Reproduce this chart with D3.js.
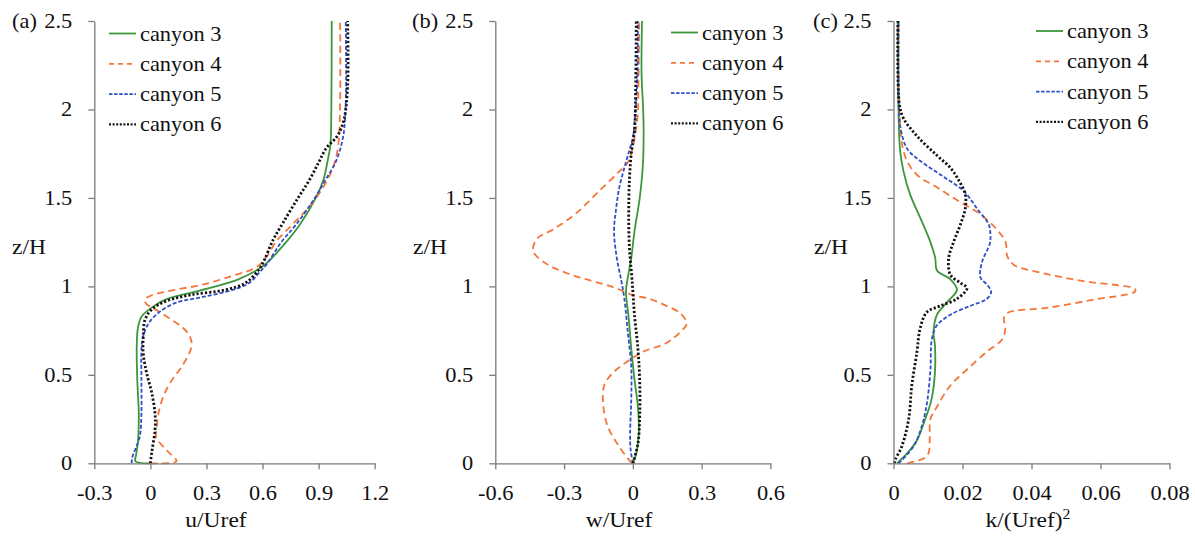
<!DOCTYPE html>
<html>
<head>
<meta charset="utf-8">
<script src="https://cdn.jsdelivr.net/npm/d3@7"></script>
<style>
  body { margin: 0; background: #fff; }
  text { font-family: "Liberation Serif", "Times New Roman", serif; fill: #111; }
</style>
</head>
<body>
<svg id="chart" width="1195" height="540"></svg>
<script>
// ---- data -------------------------------------------------------------
const seriesNames = ["canyon 3", "canyon 4", "canyon 5", "canyon 6"];
const zTicks = [0, 0.5, 1, 1.5, 2, 2.5];
const uTicks = [-0.3, 0, 0.3, 0.6, 0.9, 1.2];
const wTicks = [-0.6, -0.3, 0, 0.3, 0.6];
const kTicks = [0, 0.02, 0.04, 0.06, 0.08];

// Streamwise velocity u/Uref against height z/H: [value, z/H]
const u3 = [[-0.005,0],[-0.08,0.012],[-0.076,0.05],[-0.066,0.13],[-0.062,0.28],[-0.07,0.47],[-0.073,0.66],[-0.066,0.77],[-0.047,0.83],[0.007,0.88],[0.08,0.925],[0.2,0.96],[0.35,1.0],[0.47,1.04],[0.56,1.085],[0.62,1.13],[0.71,1.23],[0.8,1.35],[0.885,1.5],[0.925,1.6],[0.95,1.72],[0.963,1.8],[0.968,2.0],[0.97,2.5]];
const u4 = [[0.0,0],[0.14,0.012],[0.09,0.07],[0.03,0.15],[0.034,0.2],[0.043,0.28],[0.07,0.38],[0.115,0.47],[0.17,0.55],[0.22,0.66],[0.21,0.72],[0.17,0.77],[0.115,0.81],[0.043,0.86],[-0.02,0.9],[-0.03,0.925],[0.007,0.95],[0.13,0.98],[0.28,1.01],[0.44,1.06],[0.57,1.11],[0.63,1.18],[0.67,1.25],[0.76,1.35],[0.85,1.45],[0.93,1.57],[0.98,1.68],[1.005,1.8],[1.015,2.03],[1.015,2.5]];
const u5 = [[-0.1,0],[-0.098,0.03],[-0.057,0.15],[-0.048,0.28],[-0.048,0.47],[-0.047,0.66],[-0.038,0.72],[-0.01,0.79],[0.043,0.85],[0.13,0.905],[0.28,0.94],[0.44,0.98],[0.53,1.02],[0.58,1.075],[0.625,1.13],[0.7,1.25],[0.78,1.35],[0.88,1.5],[0.935,1.6],[0.99,1.7],[1.03,1.84],[1.045,2.03],[1.045,2.5]];
const u6 = [[0.0,0],[0.007,0.06],[0.025,0.19],[0.025,0.28],[0.007,0.4],[-0.02,0.51],[-0.038,0.62],[-0.038,0.72],[-0.029,0.81],[0.007,0.87],[0.08,0.915],[0.22,0.953],[0.4,0.98],[0.51,1.02],[0.58,1.094],[0.61,1.15],[0.655,1.26],[0.71,1.36],[0.79,1.5],[0.85,1.6],[0.9,1.7],[0.94,1.78],[1.0,1.85],[1.035,1.94],[1.055,2.13],[1.055,2.5]];

// Vertical velocity w/Uref against z/H
const w3 = [[0,0],[0.015,0.057],[0.026,0.17],[0.022,0.32],[0.007,0.475],[-0.007,0.65],[-0.018,0.82],[-0.03,0.97],[-0.022,1.05],[-0.007,1.16],[0.007,1.31],[0.03,1.5],[0.044,1.69],[0.047,1.88],[0.045,2.0],[0.038,2.2],[0.04,2.5]];
const w4 = [[-0.005,0],[-0.06,0.095],[-0.11,0.21],[-0.13,0.34],[-0.125,0.44],[-0.088,0.51],[-0.03,0.57],[0.044,0.63],[0.146,0.68],[0.205,0.74],[0.235,0.79],[0.205,0.85],[0.146,0.89],[0.073,0.93],[0,0.95],[-0.073,0.99],[-0.176,1.03],[-0.278,1.07],[-0.38,1.13],[-0.435,1.2],[-0.417,1.27],[-0.35,1.32],[-0.25,1.41],[-0.146,1.54],[-0.059,1.65],[-0.022,1.7],[0,1.79],[0.02,1.95],[0.025,2.2],[0.028,2.5]];
const w5 = [[0,0],[-0.01,0.08],[-0.012,0.17],[-0.007,0.36],[-0.007,0.55],[-0.022,0.74],[-0.037,0.93],[-0.05,1.03],[-0.07,1.16],[-0.082,1.31],[-0.073,1.44],[-0.059,1.56],[-0.037,1.67],[-0.015,1.77],[0,1.84],[0.012,2.0],[0.02,2.2],[0.022,2.5]];
const w6 = [[0,0],[0.022,0.11],[0.03,0.27],[0.03,0.46],[0.022,0.65],[0.007,0.84],[-0.003,1.03],[-0.015,1.22],[-0.018,1.41],[-0.015,1.6],[-0.007,1.75],[0.007,1.88],[0.012,2.1],[0.015,2.5]];

// Turbulent kinetic energy k/(Uref)^2 against z/H
const k3 = [[0.001,0],[0.004,0.057],[0.0068,0.13],[0.0092,0.25],[0.011,0.36],[0.012,0.51],[0.012,0.67],[0.0116,0.74],[0.0126,0.84],[0.0155,0.91],[0.0184,0.98],[0.0165,1.04],[0.0126,1.09],[0.0121,1.16],[0.0107,1.25],[0.0077,1.39],[0.0048,1.52],[0.0029,1.65],[0.0019,1.77],[0.0015,1.95],[0.0013,2.2],[0.0012,2.5]];
const k4 = [[0.004,0],[0.009,0.03],[0.0102,0.06],[0.0105,0.15],[0.0107,0.25],[0.0126,0.32],[0.0165,0.44],[0.0213,0.53],[0.027,0.63],[0.0315,0.7],[0.0324,0.76],[0.032,0.82],[0.033,0.85],[0.045,0.88],[0.058,0.925],[0.07,0.97],[0.07,0.985],[0.055,1.03],[0.042,1.08],[0.035,1.12],[0.033,1.17],[0.0325,1.25],[0.03,1.32],[0.025,1.41],[0.019,1.48],[0.0126,1.56],[0.0068,1.63],[0.0039,1.71],[0.0025,1.8],[0.0019,1.93],[0.0016,2.03],[0.0013,2.5]];
const k5 = [[0.0015,0],[0.0058,0.095],[0.0082,0.21],[0.0097,0.34],[0.0107,0.53],[0.0111,0.7],[0.0126,0.78],[0.0165,0.84],[0.0223,0.89],[0.0271,0.93],[0.0283,0.97],[0.0271,1.01],[0.0252,1.05],[0.0257,1.14],[0.0279,1.24],[0.0281,1.29],[0.0276,1.35],[0.0242,1.44],[0.0203,1.54],[0.0145,1.62],[0.0077,1.71],[0.0039,1.78],[0.0019,1.91],[0.0015,2.03],[0.0015,2.5]];
const k6 = [[0.0003,0],[0.0005,0.02],[0.0024,0.095],[0.0044,0.25],[0.0053,0.44],[0.0068,0.63],[0.0077,0.76],[0.0097,0.855],[0.0136,0.89],[0.0184,0.93],[0.0213,0.99],[0.0194,1.02],[0.0165,1.065],[0.016,1.16],[0.0174,1.25],[0.0194,1.35],[0.0208,1.44],[0.0208,1.52],[0.0189,1.6],[0.0165,1.67],[0.0126,1.74],[0.0068,1.85],[0.0029,1.95],[0.0017,2.03],[0.0013,2.5]];

// ---- styling ----------------------------------------------------------
const lineStyles = [
  { color: "#3c963c", width: 1.8, dash: null,      legendDash: null },
  { color: "#f4763a", width: 1.8, dash: "7,4.5",   legendDash: "5,4" },
  { color: "#2f4fc6", width: 1.8, dash: "4,2",     legendDash: "3.5,1.6" },
  { color: "#141414", width: 2.8, dash: "2.2,2",   legendDash: "2,1.6" }
];
const SX = 1.12;          // horizontal stretch applied to all lettering
const FONT = 20;
const axisColor = "#7b7b7b";

const panels = [
  { tag: "(a)", tagX: 12, title: "u/Uref", titleX: 216, domain: [-0.3, 1.2], ticks: uTicks,
    xRange: [94.3, 374.7], zLabelX: 12, legend: { x1: 109, x2: 136, tx: 140, y0: 33.5 },
    data: [u3, u4, u5, u6] },
  { tag: "(b)", tagX: 412, title: "w/Uref", titleX: 619, domain: [-0.6, 0.6], ticks: wTicks,
    xRange: [495.3, 770.4], zLabelX: 413, legend: { x1: 671, x2: 698, tx: 702, y0: 32.5 },
    data: [w3, w4, w5, w6] },
  { tag: "(c)", tagX: 813, title: "k/(Uref)", sup: "2", titleX: 1028, domain: [0, 0.08], ticks: kTicks,
    xRange: [893.5, 1169.5], zLabelX: 814, legend: { x1: 1036, x2: 1063, tx: 1067, y0: 31 },
    data: [k3, k4, k5, k6] }
];

const svg = d3.select("#chart");
const yRange = [463.3, 21];
const legendStep = 30.3;

function label(g, x, y, s, anchor, size) {
  return g.append("text")
    .attr("transform", `translate(${x},${y}) scale(${SX},1)`)
    .attr("text-anchor", anchor || "start")
    .style("font-size", (size || FONT) + "px")
    .text(s);
}

panels.forEach(p => {
  const g = svg.append("g");
  const x = d3.scaleLinear().domain(p.domain).range(p.xRange);
  const y = d3.scaleLinear().domain([0, 2.5]).range(yRange);

  // profiles
  const line = d3.line()
    .x(d => x(d[0]))
    .y(d => y(d[1]))
    .curve(d3.curveCatmullRom.alpha(0.5));

  p.data.forEach((pts, i) => {
    const st = lineStyles[i];
    g.append("path")
      .datum(pts)
      .attr("d", line)
      .attr("fill", "none")
      .attr("stroke", st.color)
      .attr("stroke-width", st.width)
      .attr("stroke-dasharray", st.dash)
      .attr("stroke-linejoin", "round");
  });

  // y axis
  const yAxis = g.append("g")
    .attr("transform", `translate(${p.xRange[0]},0)`)
    .call(d3.axisLeft(y).tickValues(zTicks).tickSize(6).tickSizeOuter(0).tickPadding(16).tickFormat(String));
  // x axis
  const xAxis = g.append("g")
    .attr("transform", `translate(0,${yRange[0]})`)
    .call(d3.axisBottom(x).tickValues(p.ticks).tickSize(6).tickSizeOuter(0).tickPadding(17).tickFormat(String));

  [yAxis, xAxis].forEach(ax => {
    ax.attr("color", axisColor).attr("font-family", null).attr("font-size", null);
    ax.selectAll("path, line").attr("stroke-width", 1.3);
    ax.selectAll("text").style("font-size", FONT + "px").attr("fill", "#111");
  });
  yAxis.selectAll("text")
    .attr("x", -22 / SX)
    .attr("transform", `scale(${SX},1)`);
  xAxis.selectAll("text")
    .attr("transform", `scale(${SX},1)`);

  // panel tag, axis titles
  label(g, p.tagX, y(2.5) + 7.4, p.tag);
  label(g, p.zLabelX, 254, "z/H", "start", 21);
  const t = label(g, p.titleX, 527, p.title, "middle", 21);
  if (p.sup) {
    t.append("tspan").attr("dy", -8).style("font-size", "14px").text(p.sup);
  }

  // legend
  seriesNames.forEach((name, i) => {
    const st = lineStyles[i];
    const ly = p.legend.y0 + i * legendStep;
    g.append("line")
      .attr("x1", p.legend.x1).attr("x2", p.legend.x2)
      .attr("y1", ly).attr("y2", ly)
      .attr("stroke", st.color)
      .attr("stroke-width", i === 3 ? 2.4 : 1.8)
      .attr("stroke-dasharray", st.legendDash);
    label(g, p.legend.tx, ly + 7, name);
  });
});
</script>
</body>
</html>
